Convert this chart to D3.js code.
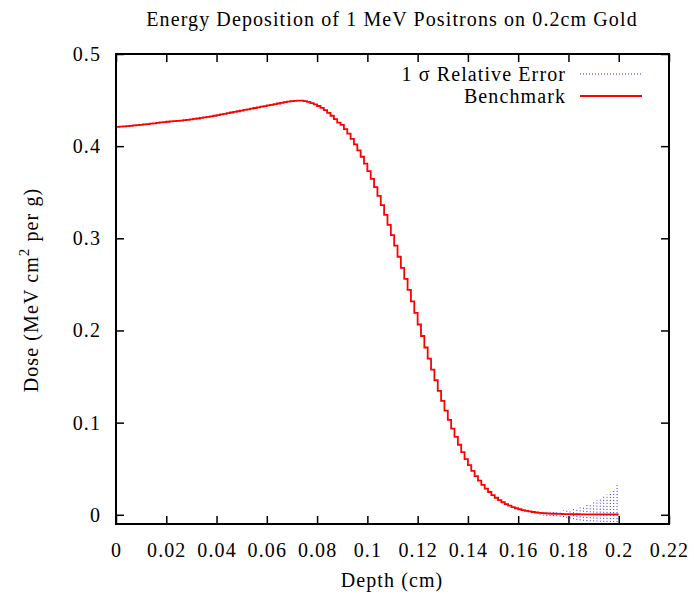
<!DOCTYPE html>
<html>
<head>
<meta charset="utf-8">
<script src="https://cdn.jsdelivr.net/npm/d3@7"></script>
<style>
  body { margin: 0; background: #fff; }
  text { font-family: "Liberation Serif", "DejaVu Serif", serif; fill: #000; letter-spacing: 1.1px; }
</style>
</head>
<body>
<svg id="chart" width="694" height="596"></svg>
<script>
// bin width of the histogram (cm)
const binWidth = 0.2 / 150;

// benchmark dose per bin
const dose = [
  0.4210, 0.4212, 0.4215, 0.4218, 0.4221, 0.4225, 0.4228, 0.4232, 0.4236, 0.4240,
  0.4244, 0.4248, 0.4252, 0.4257, 0.4261, 0.4265, 0.4269, 0.4272, 0.4275, 0.4278,
  0.4282, 0.4286, 0.4290, 0.4295, 0.4300, 0.4306, 0.4312, 0.4318, 0.4324, 0.4330,
  0.4337, 0.4344, 0.4351, 0.4358, 0.4365, 0.4372, 0.4379, 0.4386, 0.4393, 0.4400,
  0.4407, 0.4414, 0.4421, 0.4428, 0.4435, 0.4442, 0.4449, 0.4456, 0.4463, 0.4470,
  0.4477, 0.4483, 0.4488, 0.4492, 0.4494, 0.4493, 0.4488, 0.4480, 0.4468, 0.4453,
  0.4436, 0.4415, 0.4390, 0.4362, 0.4330, 0.4294, 0.4256, 0.4230, 0.4185, 0.4135,
  0.4080, 0.4020, 0.3955, 0.3885, 0.3810, 0.3730, 0.3645, 0.3555, 0.3460, 0.3360,
  0.3255, 0.3145, 0.3035, 0.2920, 0.2800, 0.2680, 0.2560, 0.2440, 0.2315, 0.2190,
  0.2065, 0.1940, 0.1815, 0.1695, 0.1575, 0.1460, 0.1345, 0.1235, 0.1130, 0.1030,
  0.0935, 0.0845, 0.0760, 0.0680, 0.0605, 0.0538, 0.0476, 0.0420, 0.0370, 0.0325,
  0.0284, 0.0247, 0.0214, 0.0185, 0.0159, 0.0136, 0.0116, 0.0099, 0.0084, 0.0071,
  0.0060, 0.0051, 0.0043, 0.0036, 0.0030, 0.0025, 0.0021, 0.0018, 0.0015, 0.0013,
  0.0011, 0.0010, 0.0009, 0.0008, 0.0007, 0.0007, 0.0006, 0.0006, 0.0005, 0.0005,
  0.0005, 0.0004, 0.0004, 0.0004, 0.0004, 0.0004, 0.0004, 0.0004, 0.0004, 0.0004
];

// 1 sigma band, only visible in the tail (bins 126..149)
const errStartBin = 126;
const errHigh = [
  0.0028, 0.0030, 0.0032, 0.0034, 0.0037, 0.0040, 0.0043, 0.0047, 0.0052, 0.0057,
  0.0063, 0.0071, 0.0080, 0.0095, 0.0108, 0.0120, 0.0140, 0.0160, 0.0180, 0.0200,
  0.0220, 0.0250, 0.0280, 0.0330
];
const errLow = [
  -0.0005, -0.0008, -0.0010, -0.0012, -0.0014, -0.0016, -0.0020, -0.0025, -0.0032, -0.0040,
  -0.0048, -0.0055, -0.0060, -0.0065, -0.0068, -0.0070, -0.0072, -0.0074, -0.0075, -0.0076,
  -0.0077, -0.0078, -0.0078, -0.0079
];

const xTicks = [0, 0.02, 0.04, 0.06, 0.08, 0.1, 0.12, 0.14, 0.16, 0.18, 0.2, 0.22];
const xTickLabels = ["0", "0.02", "0.04", "0.06", "0.08", "0.1", "0.12", "0.14", "0.16", "0.18", "0.2", "0.22"];
const yTicks = [0, 0.1, 0.2, 0.3, 0.4, 0.5];
const yTickLabels = ["0", "0.1", "0.2", "0.3", "0.4", "0.5"];

const margin = { top: 54, right: 25, bottom: 72, left: 116 };
const width = 694 - margin.left - margin.right;
const height = 596 - margin.top - margin.bottom;

const svg = d3.select('#chart');
const g = svg.append('g')
  .attr('transform', `translate(${margin.left},${margin.top})`);

const x = d3.scaleLinear().domain([0, 0.22]).range([0, width]);
const y = d3.scaleLinear().domain([-0.01, 0.5]).range([height, 0]);

// error band: dotted vertical lines, one per bin
const errData = errHigh.map((h, i) => ({
  depth: (errStartBin + i + 0.5) * binWidth, hi: h, lo: errLow[i]
}));
g.append('g').selectAll('line')
  .data(errData)
  .enter()
  .append('line')
  .attr('x1', d => x(d.depth))
  .attr('x2', d => x(d.depth))
  .attr('y1', d => y(d.lo))
  .attr('y2', d => y(d.hi))
  .attr('stroke', '#2a2aff')
  .attr('stroke-width', 1)
  .attr('stroke-dasharray', '1,2');

// benchmark histogram steps
const steps = dose.map((v, i) => [i * binWidth, v]);
steps.push([dose.length * binWidth, dose[dose.length - 1]]);
const line = d3.line()
  .x(d => x(d[0]))
  .y(d => y(d[1]))
  .curve(d3.curveStepAfter);
g.append('path')
  .datum(steps)
  .attr('d', line)
  .attr('fill', 'none')
  .attr('stroke', '#ff0000')
  .attr('stroke-width', 1.8);

// axes, gnuplot style: ticks pointing inwards on all four sides
function styleAxis(sel) {
  sel.select('.domain').remove();
  sel.selectAll('.tick line').attr('stroke', '#000').attr('stroke-width', 1.5);
  sel.selectAll('text')
    .style('font-family', '"Liberation Serif", serif')
    .style('font-size', '20px')
    .attr('fill', '#000');
}

g.append('g')
  .attr('transform', `translate(0,${height})`)
  .call(d3.axisBottom(x).tickValues(xTicks).tickFormat((d, i) => xTickLabels[i])
    .tickSizeInner(-8).tickSizeOuter(0).tickPadding(19))
  .call(styleAxis);

g.append('g')
  .call(d3.axisTop(x).tickValues(xTicks).tickFormat('')
    .tickSizeInner(-8).tickSizeOuter(0))
  .call(styleAxis);

g.append('g')
  .call(d3.axisLeft(y).tickValues(yTicks).tickFormat((d, i) => yTickLabels[i])
    .tickSizeInner(-8).tickSizeOuter(0).tickPadding(15))
  .call(styleAxis);

g.append('g')
  .attr('transform', `translate(${width},0)`)
  .call(d3.axisRight(y).tickValues(yTicks).tickFormat('')
    .tickSizeInner(-8).tickSizeOuter(0))
  .call(styleAxis);

// frame
g.append('rect')
  .attr('width', width)
  .attr('height', height)
  .attr('fill', 'none')
  .attr('stroke', '#000')
  .attr('stroke-width', 2);

// title and axis labels
svg.append('text')
  .attr('x', 392)
  .attr('y', 26)
  .attr('text-anchor', 'middle')
  .style('font-size', '20px')
  .text('Energy Deposition of 1 MeV Positrons on 0.2cm Gold');

svg.append('text')
  .attr('x', 392)
  .attr('y', 587)
  .attr('text-anchor', 'middle')
  .style('font-size', '20px')
  .text('Depth (cm)');

const yLabel = svg.append('text')
  .attr('transform', 'translate(38,290) rotate(-90)')
  .attr('text-anchor', 'middle')
  .style('font-size', '20px');
yLabel.append('tspan').text('Dose (MeV cm');
yLabel.append('tspan').attr('dy', -9).style('font-size', '15px').text('2');
yLabel.append('tspan').attr('dy', 9).text(' per g)');

// legend
const legend = [
  { label: '1 σ Relative Error', color: '#2a2aff', dash: '1,2', w: 1 },
  { label: 'Benchmark', color: '#ff0000', dash: null, w: 1.8 }
];
const lg = svg.append('g');
legend.forEach((d, i) => {
  const ly = 74 + i * 22;
  lg.append('text')
    .attr('x', 566)
    .attr('y', ly + 7)
    .attr('text-anchor', 'end')
    .style('font-size', '20px')
    .text(d.label);
  lg.append('line')
    .attr('x1', 580).attr('x2', 642)
    .attr('y1', ly).attr('y2', ly)
    .attr('stroke', d.color)
    .attr('stroke-width', d.w)
    .attr('stroke-dasharray', d.dash);
});
</script>
</body>
</html>
